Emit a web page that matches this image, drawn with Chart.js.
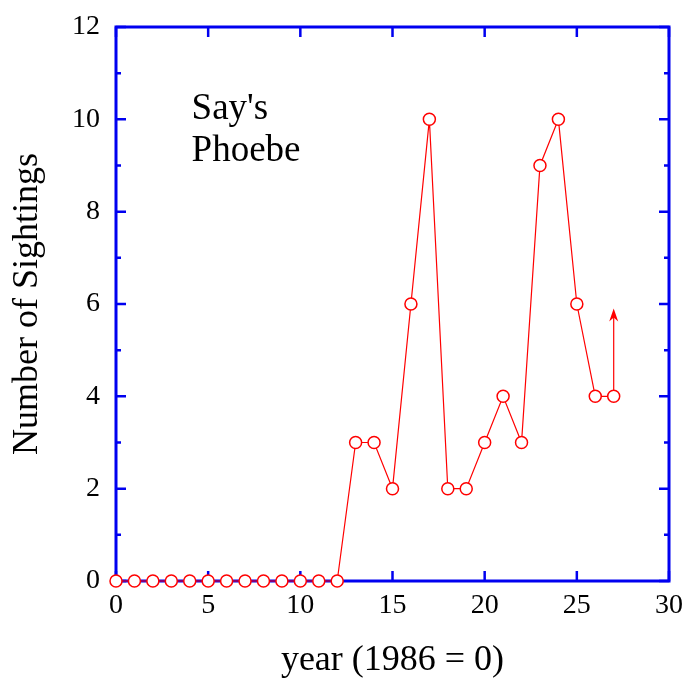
<!DOCTYPE html>
<html>
<head>
<meta charset="utf-8">
<script src="https://cdn.jsdelivr.net/npm/chart.js@4.4.1/dist/chart.umd.min.js"></script>
<style>
  html, body { margin: 0; padding: 0; background: #fff; }
  #wrap { width: 686px; height: 679px; }
</style>
</head>
<body>
<div id="wrap"><canvas id="myChart" width="686" height="679"></canvas></div>
<script>
// data
const years = [0, 1, 2, 3, 4, 5, 6, 7, 8, 9, 10, 11, 12, 13, 14, 15, 16, 17, 18, 19, 20, 21, 22, 23, 24, 25, 26, 27];
const sightings = [0, 0, 0, 0, 0, 0, 0, 0, 0, 0, 0, 0, 0, 3, 3, 2, 6, 10, 2, 2, 3, 4, 3, 9, 10, 6, 4, 4];

const xTicks = [0, 5, 10, 15, 20, 25, 30];
const yTicks = [0, 2, 4, 6, 8, 10, 12];
const yMinorTicks = [1, 3, 5, 7, 9, 11];

// arrow on the last point (still rising)
const arrowFrom = [27, 4];
const arrowTo = [27, 5.9];

// species label, anchored in data units
const labelLines = ["Say's", 'Phoebe'];
const labelAt = [4.1, 10];

const serif = "'Liberation Serif', 'Times New Roman', serif";
const blue = '#0000f0';
const red = '#ff0000';

document.addEventListener('DOMContentLoaded', () => {
  const ctx = document.getElementById('myChart');

  const framePlugin = {
    id: 'frame',
    beforeDatasetsDraw(chart) {
      const c = chart.ctx;
      const a = chart.chartArea;
      const xs = chart.scales.x;
      const ys = chart.scales.y;
      c.save();
      c.strokeStyle = blue;
      c.lineWidth = 2.5;
      // inward ticks, all four sides
      xTicks.forEach((v) => {
        const px = xs.getPixelForValue(v);
        c.beginPath();
        c.moveTo(px, a.bottom); c.lineTo(px, a.bottom - 10);
        c.moveTo(px, a.top); c.lineTo(px, a.top + 10);
        c.stroke();
      });
      yTicks.forEach((v) => {
        const py = ys.getPixelForValue(v);
        c.beginPath();
        c.moveTo(a.left, py); c.lineTo(a.left + 10, py);
        c.moveTo(a.right, py); c.lineTo(a.right - 10, py);
        c.stroke();
      });
      yMinorTicks.forEach((v) => {
        const py = ys.getPixelForValue(v);
        c.beginPath();
        c.moveTo(a.left, py); c.lineTo(a.left + 5, py);
        c.moveTo(a.right, py); c.lineTo(a.right - 5, py);
        c.stroke();
      });
      c.lineWidth = 3;
      c.strokeRect(a.left, a.top, a.right - a.left, a.bottom - a.top);
      c.restore();
    },
    afterDatasetsDraw(chart) {
      const c = chart.ctx;
      const xs = chart.scales.x;
      const ys = chart.scales.y;

      // arrow
      const x0 = xs.getPixelForValue(arrowFrom[0]);
      const y0 = ys.getPixelForValue(arrowFrom[1]) - 6;
      const y1 = ys.getPixelForValue(arrowTo[1]);
      c.save();
      c.strokeStyle = red;
      c.fillStyle = red;
      c.lineWidth = 1.2;
      c.beginPath();
      c.moveTo(x0, y0); c.lineTo(x0, y1 + 4);
      c.stroke();
      c.beginPath();
      c.moveTo(x0, y1);
      c.lineTo(x0 - 4.5, y1 + 13);
      c.lineTo(x0, y1 + 9);
      c.lineTo(x0 + 4.5, y1 + 13);
      c.closePath();
      c.fill();

      // label
      c.fillStyle = '#000';
      c.font = '37px ' + serif;
      c.textAlign = 'left';
      c.textBaseline = 'alphabetic';
      const lx = xs.getPixelForValue(labelAt[0]);
      const ly = ys.getPixelForValue(labelAt[1]);
      labelLines.forEach((t, i) => c.fillText(t, lx, ly + i * 42));
      c.restore();
    },
  };

  new Chart(ctx, {
    type: 'line',
    data: {
      datasets: [
        {
          data: years.map((x, i) => ({ x: x, y: sightings[i] })),
          borderColor: red,
          borderWidth: 1.2,
          pointRadius: 6,
          pointBorderWidth: 1.5,
          pointBackgroundColor: '#fff',
          pointBorderColor: red,
          tension: 0,
          clip: false,
        },
      ],
    },
    options: {
      responsive: false,
      animation: false,
      events: [],
      layout: { padding: { top: 27, right: 17, left: 0, bottom: 0 } },
      plugins: { legend: { display: false }, tooltip: { enabled: false } },
      scales: {
        x: {
          type: 'linear',
          min: 0,
          max: 30,
          afterFit: (s) => { s.height = 98; s.paddingLeft = 0; s.paddingRight = 0; },
          afterBuildTicks: (s) => { s.ticks = xTicks.map((v) => ({ value: v })); },
          grid: { display: false, drawTicks: false },
          border: { display: false },
          ticks: { color: '#000', padding: 8, maxRotation: 0, font: { family: serif, size: 28 } },
          title: {
            display: true,
            text: 'year (1986 = 0)',
            color: '#000',
            padding: 0,
            font: { family: serif, size: 36, lineHeight: 1 },
          },
        },
        y: {
          min: 0,
          max: 12,
          afterFit: (s) => { s.width = 116; s.paddingTop = 0; s.paddingBottom = 0; },
          afterBuildTicks: (s) => { s.ticks = yTicks.map((v) => ({ value: v })); },
          grid: { display: false, drawTicks: false },
          border: { display: false },
          ticks: { color: '#000', padding: 16, font: { family: serif, size: 28 } },
          title: {
            display: true,
            text: 'Number of Sightings',
            color: '#000',
            padding: { top: 10, bottom: 0 },
            font: { family: serif, size: 36, lineHeight: 1 },
          },
        },
      },
    },
    plugins: [framePlugin],
  });
});
</script>
</body>
</html>
